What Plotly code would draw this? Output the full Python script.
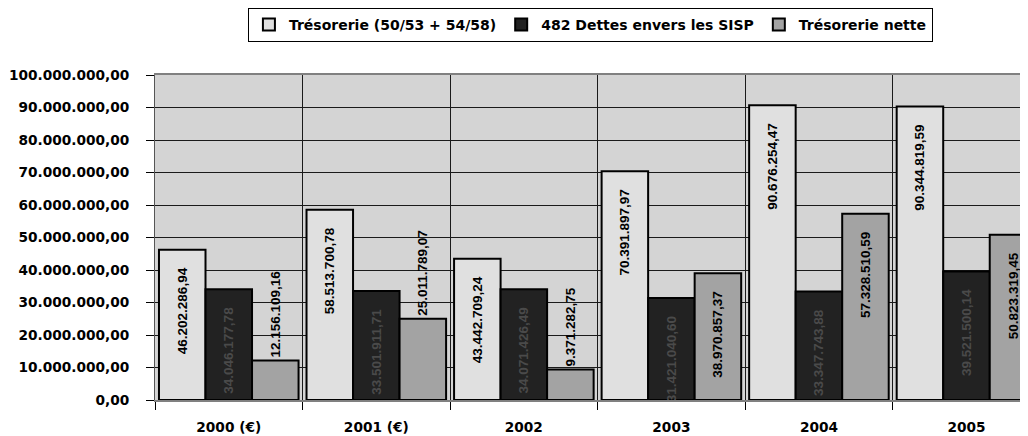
import plotly.graph_objects as go

categories = ["2000 (€)", "2001 (€)", "2002", "2003", "2004", "2005"]
tresorerie = [46202286.94, 58513700.78, 43442709.24, 70391897.97, 90676254.47, 90344819.59]
dettes = [34046177.78, 33501911.71, 34071426.49, 31421040.60, 33347743.88, 39521500.14]
nette = [12156109.16, 25011789.07, 9371282.75, 38970857.37, 57328510.59, 50823319.45]
series_names = ["Trésorerie (50/53 + 54/58)", "482 Dettes envers les SISP", "Trésorerie nette"]
y_tickvals = [0, 10e6, 20e6, 30e6, 40e6, 50e6, 60e6, 70e6, 80e6, 90e6, 100e6]

AX_FONT = dict(family="DejaVu Sans", size=13.7, color="#000000", weight="bold")
LEG_FONT = dict(family="DejaVu Sans", size=14, color="#000000", weight="bold")
LBL_FONT = "Liberation Sans, Arial, sans-serif"
PAD = "\u00a0\u00a0\u00a0\u00a0"
FIT_MIN = 30e6  # a label fits inside a bar only when the bar is tall enough


def positions(vals):
    return ["inside" if v >= FIT_MIN else "outside" for v in vals]


fig = go.Figure()
specs = [
    (series_names[0], tresorerie, "#e0e0e0", "#000000"),
    (series_names[1], dettes, "#222222", "#4a4a4a"),
    (series_names[2], nette, "#a3a3a3", "#000000"),
]
for name, vals, color, tcolor in specs:
    fig.add_trace(go.Bar(
        name=name,
        x=categories, y=vals,
        marker=dict(color=color, line=dict(color="#000000", width=2)),
        texttemplate="%{y:,.2f}" + PAD,
        textposition=positions(vals),
        textangle=-90,
        insidetextanchor="end",
        constraintext="none",
        insidetextfont=dict(family=LBL_FONT, size=13.5, color=tcolor, weight="bold"),
        outsidetextfont=dict(family=LBL_FONT, size=13.5, color="#000000", weight="bold"),
        cliponaxis=True,
        hoverinfo="skip",
    ))

fig.update_layout(
    width=1020, height=428,
    margin=dict(l=147, r=0, t=67, b=36),
    paper_bgcolor="#ffffff",
    plot_bgcolor="#d4d4d4",
    separators=",.",
    barmode="group",
    bargap=0.054,
    bargroupgap=0,
    showlegend=True,
    legend=dict(
        orientation="h",
        xref="container", yref="container",
        x=0.571, xanchor="center",
        y=1.0, yanchor="top",
        bgcolor="#ffffff", bordercolor="#000000", borderwidth=1,
        font=LEG_FONT,
        traceorder="normal",
    ),
    xaxis=dict(
        type="category",
        range=[-0.5, 5.417],
        tickson="boundaries",
        showgrid=True, gridcolor="#1a1a1a", gridwidth=1,
        ticks="outside", ticklen=8, tickcolor="#000000",
        showline=True, linecolor="#808080", linewidth=2, mirror=True,
        tickfont=AX_FONT,
        ticklabelstandoff=14,
    ),
    yaxis=dict(
        range=[0, 100e6],
        tickvals=y_tickvals,
        tickformat=",.2f",
        showgrid=True, gridcolor="#1a1a1a", gridwidth=1,
        zeroline=False,
        ticks="outside", ticklen=8, tickcolor="#000000",
        showline=True, linecolor="#555555", linewidth=1,
        tickfont=AX_FONT,
        ticklabelstandoff=14,
    ),
)

fig.write_html("out.html")
